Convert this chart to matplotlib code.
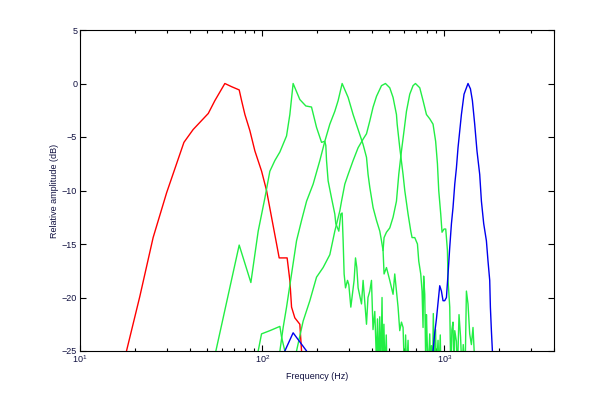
import matplotlib
matplotlib.use("Agg")
import matplotlib.pyplot as plt
from matplotlib.ticker import LogLocator, NullFormatter

plt.rcParams['font.family'] = ['Liberation Sans', 'DejaVu Sans']
plt.rcParams['mathtext.fontset'] = 'custom'
plt.rcParams['mathtext.rm'] = 'Liberation Sans'

# red channel
red_f = [16.0, 18.0, 21.3, 25.2, 29.9, 37.2, 41.8, 50.6, 55.0, 62.4, 68.0, 74.8, 77.1, 80.4,
         85.6, 91.2, 99.3, 105.7, 112.6, 120.0, 124.0, 137.1, 141.9, 145.0, 151.1, 161.0,
         164.5, 172.0]
red_db = [-29, -25, -19.9, -14.4, -10.2, -5.5, -4.3, -2.8, -1.6, 0.0, -0.3, -0.6, -1.6, -2.9,
          -4.4, -6.3, -8.2, -10.0, -12.5, -15.0, -16.3, -16.3, -18.4, -20.9, -21.9, -22.5,
          -25, -30]

# green channels
g1_f = [50.0, 55.7, 74.8, 86.7, 95.1, 103.5, 110.2, 117.4, 125.1, 136.1, 141.9, 147.9, 161.0,
        173.7, 186.6, 198.8, 211.8, 220.8, 223.6, 225.6, 230.2, 240.3, 250.5, 253.7, 263.5,
        270.3, 274.8, 278.3, 281.8, 286.8, 294.1, 299.0, 306.7, 319.7, 325.4, 330.8, 336.3,
        351.0, 358.2, 373.9, 381.0, 389.8, 398.2, 406.0, 415.2, 424.0, 429.6, 435.0, 442.0,
        447.9, 455.0, 461.0, 466.0, 472.0, 480.0, 490.0]
g1_db = [-30, -25, -15.1, -18.6, -13.8, -10.7, -8.2, -7.2, -6.4, -4.9, -2.9, 0.0, -1.5,
         -2.1, -2.2, -4.1, -5.5, -5.4, -5.8, -7.2, -9.1, -10.7, -12.2, -13.1, -13.8,
         -12.2, -12.1, -14.7, -17.8, -19.1, -18.4, -18.8, -20.9, -18.4, -16.3, -17.2, -19.1,
         -20.6, -18.4, -22.5, -20.0, -19.4, -18.4, -23.0, -21.3, -26, -22.0, -27, -21.8,
         -27, -20.0, -28, -22.5, -27, -23.5, -30]

g2_f = [120.0, 125.1, 130.4, 136.1, 145.0, 154.4, 164.5, 175.3, 190.5, 207.3, 220.8, 235.2,
        250.5, 261.2, 274.8, 296.4, 315.7, 336.3, 358.2, 373.9, 381.4, 389.8, 406.4, 424.3,
        442.3, 451.9, 461.0, 466.9, 481.3, 501.7, 523.1, 534.4, 557.2, 569.3, 581.7, 593.6,
        606.5, 613.0, 620.0, 632.3, 645.0]
g2_db = [-30, -25, -22.8, -20.9, -17.8, -14.7, -12.8, -11.0, -9.4, -7.2, -5.4, -3.8,
         -2.6, -1.6, 0.0, -1.3, -2.9, -4.3, -5.7, -6.9, -8.5, -9.7, -11.6, -12.8,
         -13.8, -14.7, -15.6, -17.8, -17.2, -18.4, -19.7, -17.8, -20.9, -23.1, -22.3, -22.8,
         -28, -23.5, -27, -24.0, -30]

g3_f = [92.0, 95.1, 99.2, 110.2, 125.1, 127.8, 133.2, 140.0, 154.4, 167.9, 182.7, 198.8,
        216.1, 235.2, 250.5, 266.9, 272.7, 284.3, 296.4, 315.7, 336.3, 358.2, 373.9, 389.8,
        406.4, 424.3, 451.9, 475.2, 501.7, 523.1, 546.0, 551.0, 569.3, 593.6, 606.5, 632.3,
        654.3, 665.1, 688.1, 711.9, 723.8, 742.2, 754.6, 764.2, 770.0, 780.8, 790.0, 797.7,
        805.0, 815.0, 831.7, 840.0, 849.7, 860.0, 870.0, 880.0, 895.0, 905.0, 923.5, 935.0,
        950.0, 965.0]
g3_db = [-30, -25, -23.4, -23.1, -22.7, -23.7, -25, -30, -25, -22.2, -20.3, -18.1,
         -17.2, -16.0, -13.8, -11.9, -11.0, -9.4, -8.5, -7.2, -6.0, -5.2, -4.7, -3.5,
         -2.2, -1.2, -0.2, 0.0, -0.4, -1.3, -2.9, -3.8, -6.0, -8.5, -10.0, -12.2,
         -13.8, -14.4, -14.4, -15.0, -16.6, -17.8, -19.4, -22.8, -18.0, -19.7, -26, -21.6,
         -24.0, -27, -23.4, -27, -24.5, -28, -21.5, -26, -23.0, -27, -24.0, -27,
         -23.5, -30]

g4_f = [461.0, 466.9, 481.3, 501.7, 523.1, 546.0, 562.2, 581.7, 601.1, 619.6, 646.0, 673.5,
        694.3, 733.0, 764.2, 797.7, 831.7, 867.0, 896.0, 916.6, 931.8, 955.6, 971.4, 996.3,
        1018, 1040, 1048, 1071, 1085, 1100, 1116, 1130, 1141, 1165, 1180, 1204, 1228, 1250,
        1270, 1300, 1322, 1349, 1378, 1408, 1437, 1468, 1500]
g4_db = [-15.6, -14.4, -13.9, -13.5, -12.5, -11.0, -8.5, -6.3, -4.4, -2.6, -1.0, -0.2,
         0.0, -0.4, -1.6, -2.9, -3.3, -3.8, -5.4, -7.5, -10.0, -12.2, -13.9, -13.6,
         -13.6, -15.6, -18.4, -20.9, -27, -23.0, -22.3, -27, -23.1, -24.1, -27, -21.6, -23.7,
         -27, -24.4, -27, -19.4, -20.6, -23.4, -24.4, -22.8, -26, -30]

# blue channel
blue_f = [125.0, 133.2, 147.9, 175.3, 185.0, 500.0, 860.0, 867.0, 885.8, 905.1, 923.5, 943.6,
          964.0, 983.7, 1005, 1027, 1048, 1071, 1094, 1116, 1141, 1165, 1189, 1241, 1283,
          1349, 1391, 1426, 1468, 1511, 1564, 1598, 1645, 1702, 1737, 1775, 1790, 1813,
          1836, 1870]
blue_db = [-30, -25, -23.3, -25, -30, -35, -30, -25, -23.3, -22.0, -20.5, -18.9,
           -19.4, -20.3, -20.3, -20.0, -17.8, -15.3, -13.1, -11.6, -9.4, -7.9, -6.0, -2.9, -1.0,
           0.0, -0.5, -1.6, -3.8, -6.3, -8.5, -11.0, -13.1, -14.7, -16.6, -18.4, -20.9, -23.1,
           -25, -30]

green = '#22ee44'
fig = plt.figure(figsize=(6.12, 3.95), dpi=100)
ax = fig.add_axes([80 / 612, 44 / 395, 474 / 612, 321 / 395])

ax.plot(red_f, red_db, color='#ff0000', lw=1.0)
for f, db in [(g1_f, g1_db), (g2_f, g2_db), (g3_f, g3_db), (g4_f, g4_db)]:
    ax.plot(f, db, color=green, lw=1.0)
ax.plot(blue_f, blue_db, color='#0000ee', lw=1.0)

ax.set_xscale('log')
ax.set_xlim(10, 4000)
ax.set_ylim(-25, 5)
ax.set_yticks([-25, -20, -15, -10, -5, 0, 5])
ax.xaxis.set_major_locator(LogLocator(base=10, numticks=10))
ax.xaxis.set_minor_locator(LogLocator(base=10, subs=range(2, 10), numticks=10))
ax.xaxis.set_minor_formatter(NullFormatter())

ax.tick_params(which='both', direction='in', top=True, right=True, labelsize=6.5,
               labelcolor='#101040', width=0.8)
ax.tick_params(which='major', length=4, pad=2)
ax.tick_params(which='minor', length=2.5)
for s in ax.spines.values():
    s.set_linewidth(0.8)

ax.set_xlabel('Frequency (Hz)', fontsize=6.5, color='#101040', labelpad=5)
ax.set_ylabel('Relative amplitude (dB)', fontsize=6.5, color='#101040', labelpad=2)

plt.savefig('out.png', dpi=100)
plt.close()
